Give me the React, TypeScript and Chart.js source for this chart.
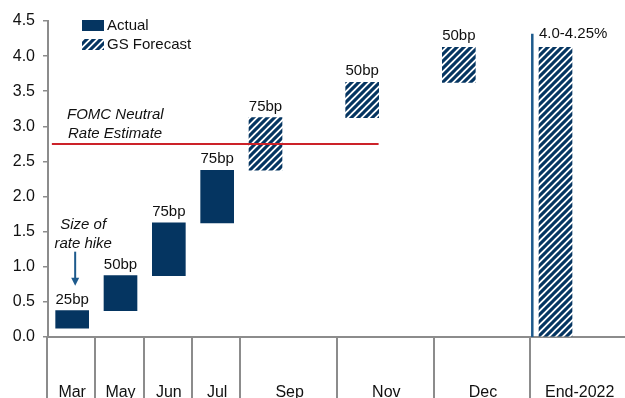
import React, { useEffect, useRef } from 'react';
import { Chart, registerables } from 'chart.js';

Chart.register(...registerables);

// FOMC meetings and how many axis slots each one occupies
const meetings = ['Mar', 'May', 'Jun', 'Jul', 'Sep', 'Nov', 'Dec', 'End-2022'];
const meetingSlots = [1, 1, 1, 1, 2, 2, 2, 2];

// Fed funds target (midpoint) before and after each meeting, %
const rangeLow = [0.125, 0.375, 0.875, 1.625, 2.375, 3.125, 3.625, 0];
const rangeHigh = [0.375, 0.875, 1.625, 2.375, 3.125, 3.625, 4.125, 4.125];
const isForecast = [false, false, false, false, true, true, true, true];
const hikeLabels = ['25bp', '50bp', '75bp', '75bp', '75bp', '50bp', '50bp', '4.0-4.25%'];

const seriesNames = ['Actual', 'GS Forecast'];
const neutralRate = 2.75;
const dividerTop = 4.32;

const yMin = 0;
const yMax = 4.5;
const yStep = 0.5;

const NAVY = '#053561';
const BLUE = '#1d5a8c';
const RED = '#cc2229';
const GREY = '#8c8c8c';
const TEXT = '#111111';
const FONT = '"Liberation Sans", Arial, sans-serif';

const W = 628;
const H = 410;

// diagonal "///" fill used for the forecast bars
function makeHatch(): CanvasPattern | string {
  const s = 7;
  const tile = document.createElement('canvas');
  tile.width = s;
  tile.height = s;
  const c = tile.getContext('2d');
  if (!c) return NAVY;
  c.fillStyle = '#ffffff';
  c.fillRect(0, 0, s, s);
  c.strokeStyle = NAVY;
  c.lineWidth = 3.1;
  c.beginPath();
  for (const k of [-s, 0, s]) {
    c.moveTo(k - 1, s + 1);
    c.lineTo(k + s + 1, -1);
  }
  c.stroke();
  const p = c.createPattern(tile, 'repeat');
  return p || NAVY;
}

export default function App() {
  const canvasRef = useRef<HTMLCanvasElement | null>(null);

  useEffect(() => {
    const canvas = canvasRef.current;
    if (!canvas) return;

    const hatch = makeHatch();

    // expand meetings into axis slots
    const startSlot: number[] = [];
    const slotLabels: string[] = [];
    meetings.forEach((m, i) => {
      startSlot.push(slotLabels.length);
      for (let k = 0; k < meetingSlots[i]; k++) slotLabels.push(k === 0 ? m : '');
    });

    const actualData: ([number, number] | null)[] = slotLabels.map(() => null);
    const forecastData: ([number, number] | null)[] = slotLabels.map(() => null);
    meetings.forEach((_, i) => {
      const target = isForecast[i] ? forecastData : actualData;
      target[startSlot[i]] = [rangeLow[i], rangeHigh[i]];
    });

    const overlay = {
      id: 'rateOverlay',
      afterDatasetsDraw(chart: any) {
        const { ctx, chartArea } = chart;
        const x = chart.scales.x;
        const y = chart.scales.y;
        ctx.save();

        // neutral rate line
        const yN = y.getPixelForValue(neutralRate);
        ctx.strokeStyle = RED;
        ctx.lineWidth = 2;
        ctx.beginPath();
        ctx.moveTo(x.getPixelForValue(-0.42), yN);
        ctx.lineTo(x.getPixelForValue(startSlot[5] + 0.34), yN);
        ctx.stroke();

        ctx.fillStyle = TEXT;
        ctx.font = `italic 15px ${FONT}`;
        ctx.textAlign = 'left';
        ctx.textBaseline = 'alphabetic';
        ctx.fillText('FOMC Neutral', chartArea.left + 19, yN - 25);
        ctx.fillText('Rate Estimate', chartArea.left + 20, yN - 6);

        // divider before year-end bar
        const xd = x.getPixelForValue(startSlot[7] - 0.48);
        ctx.strokeStyle = BLUE;
        ctx.lineWidth = 2.5;
        ctx.beginPath();
        ctx.moveTo(xd, y.getPixelForValue(0));
        ctx.lineTo(xd, y.getPixelForValue(dividerTop));
        ctx.stroke();

        // hike size labels
        ctx.font = `15px ${FONT}`;
        meetings.forEach((_, i) => {
          const meta = chart.getDatasetMeta(isForecast[i] ? 1 : 0);
          const el = meta.data[startSlot[i]];
          if (!el) return;
          const top = Math.min(el.y, el.base);
          const last = i === meetings.length - 1;
          ctx.textAlign = last ? 'left' : 'center';
          const tx = last ? el.x - el.width / 2 : el.x;
          ctx.fillText(hikeLabels[i], tx, top - (last ? 9 : 7));
        });

        // "Size of rate hike" note with arrow above the first bar
        const first = chart.getDatasetMeta(0).data[startSlot[0]];
        const ax = first.x + 3;
        const firstTop = Math.min(first.y, first.base);
        ctx.font = `italic 15px ${FONT}`;
        ctx.textAlign = 'center';
        ctx.fillText('Size of', first.x + 11, firstTop - 82);
        ctx.fillText('rate hike', first.x + 11, firstTop - 63);
        ctx.strokeStyle = BLUE;
        ctx.lineWidth = 2;
        ctx.beginPath();
        ctx.moveTo(ax, firstTop - 59);
        ctx.lineTo(ax, firstTop - 32);
        ctx.stroke();
        ctx.fillStyle = BLUE;
        ctx.beginPath();
        ctx.moveTo(ax - 4, firstTop - 33);
        ctx.lineTo(ax + 4, firstTop - 33);
        ctx.lineTo(ax, firstTop - 25);
        ctx.closePath();
        ctx.fill();

        // legend
        const lx = chartArea.left + 34;
        const fills = [NAVY, hatch];
        seriesNames.forEach((name, i) => {
          const top = chartArea.top - 1 + i * 19;
          ctx.fillStyle = fills[i];
          ctx.fillRect(lx, top, 22, 11);
          ctx.fillStyle = TEXT;
          ctx.font = `15px ${FONT}`;
          ctx.textAlign = 'left';
          ctx.textBaseline = 'middle';
          ctx.fillText(name, lx + 25, top + 6);
        });

        // category separators and labels below the axis
        ctx.strokeStyle = GREY;
        ctx.lineWidth = 2;
        ctx.textBaseline = 'alphabetic';
        ctx.textAlign = 'center';
        ctx.font = `16px ${FONT}`;
        meetings.forEach((m, i) => {
          const l = x.getPixelForValue(startSlot[i] - 0.5);
          const r = x.getPixelForValue(startSlot[i] + meetingSlots[i] - 0.5);
          ctx.beginPath();
          ctx.moveTo(Math.round(l) - 1, chartArea.bottom);
          ctx.lineTo(Math.round(l) - 1, chart.height);
          ctx.stroke();
          ctx.fillStyle = TEXT;
          ctx.fillText(m, (l + r) / 2, chart.height - 13);
        });

        ctx.restore();
      },
    };

    const chart = new Chart(canvas, {
      type: 'bar',
      data: {
        labels: slotLabels,
        datasets: [
          {
            label: seriesNames[0],
            data: actualData as any,
            backgroundColor: NAVY,
            barThickness: 33,
            grouped: false,
            borderWidth: 0,
          } as any,
          {
            label: seriesNames[1],
            data: forecastData as any,
            backgroundColor: hatch as any,
            barThickness: 33,
            grouped: false,
            borderWidth: 0,
          } as any,
        ],
      },
      options: {
        animation: false,
        responsive: false,
        devicePixelRatio: 1,
        layout: { padding: { top: 21, left: 0, right: 0, bottom: 0 } },
        plugins: {
          legend: { display: false },
          tooltip: { enabled: false },
        },
        scales: {
          x: {
            type: 'category',
            offset: true,
            grid: { display: false },
            border: { display: true, color: GREY, width: 2 },
            ticks: { display: false },
            afterFit: (s: any) => {
              s.height = 73;
            },
          },
          y: {
            min: yMin,
            max: yMax,
            ticks: {
              stepSize: yStep,
              color: TEXT,
              padding: 8,
              font: { family: FONT, size: 16 },
              callback: (v: any) => Number(v).toFixed(1),
            },
            grid: {
              drawOnChartArea: false,
              drawTicks: true,
              tickLength: 5,
              color: GREY,
              lineWidth: 1.5,
            },
            border: { display: true, color: GREY, width: 2 },
            afterFit: (s: any) => {
              s.width = 48;
            },
          },
        },
      },
      plugins: [overlay],
    });

    return () => chart.destroy();
  }, []);

  return (
    <div
      style={{
        position: 'absolute',
        left: 0,
        top: 0,
        width: 625,
        height: 398,
        overflow: 'hidden',
        background: '#ffffff',
      }}
    >
      <canvas ref={canvasRef} width={W} height={H} style={{ display: 'block', width: W, height: H }} />
    </div>
  );
}
